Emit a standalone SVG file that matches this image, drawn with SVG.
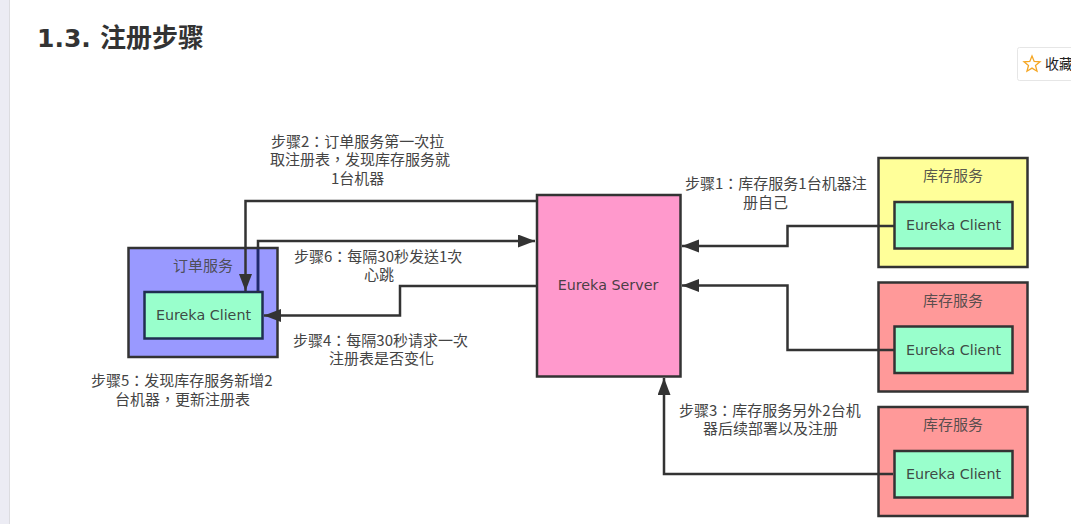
<svg xmlns="http://www.w3.org/2000/svg" width="1071" height="524" viewBox="0 0 1071 524">
<style>
.t{font-family:"DejaVu Sans","Noto Sans CJK TC",sans-serif;font-size:14.300px;fill:#333;fill-opacity:.9;text-anchor:middle}
.n{stroke:#333;stroke-width:2.500}
.c{fill:none;stroke:#333;stroke-width:2.500}
.s{font-family:"Noto Sans CJK TC",sans-serif;font-size:15px;fill:#444;fill-opacity:.9;text-anchor:middle}
.l{font-family:"Noto Sans CJK TC",sans-serif;font-size:15px;fill:#444}
</style>
<defs>
<marker id="a" markerUnits="userSpaceOnUse" markerWidth="18" markerHeight="14" refX="17" refY="6.500" orient="auto"><path d="M0 0L17 6.500L0 13Z" fill="#333"/></marker>
</defs>
<rect width="1071" height="524" fill="#fff"/>
<rect width="9" height="524" fill="#ececf4"/>
<rect x="9" width="1" height="524" fill="#dcdce0"/>
<text x="37" y="47" font-family="'DejaVu Sans',sans-serif" font-size="25" font-weight="700" fill="#333">1.3.</text>
<text x="100" y="47" font-family="'Noto Sans CJK SC',sans-serif" font-size="26" font-weight="700" fill="#333">注册步骤</text>
<g id="fav">
<rect x="1017.500" y="47.500" width="60" height="33" rx="2" fill="#fff" stroke="#e6e6e6"/>
<path d="M1032 56l2.200 5.400 5.800.4-4.500 3.700 1.500 5.700-5-3.100-5 3.100 1.500-5.700-4.500-3.700 5.800-.4z" fill="none" stroke="#f5a623" stroke-width="1.300"/>
<text x="1045" y="69" font-family="'Noto Sans CJK SC',sans-serif" font-size="14" fill="#222">收藏</text>
</g>
<g id="order-service"><rect class="n" x="128.500" y="248" width="149" height="109" fill="#99f"/><text class="s" x="203" y="271">订单服务</text></g>
<g id="order-client"><rect class="n" x="144.500" y="292" width="118" height="46.500" fill="#9fc" style="stroke:#1f2f50"/><text class="t" x="203.500" y="320">Eureka Client</text></g>
<g id="eureka-server"><rect class="n" x="537" y="195" width="143.500" height="181.500" fill="#f9c"/><text class="t" x="608" y="290">Eureka Server</text></g>
<g id="stock-1"><rect class="n" x="878.500" y="158" width="149" height="109" fill="#ff9"/><text class="s" x="953" y="181">库存服务</text></g>
<g id="stock-1-client"><rect class="n" x="894.500" y="202" width="118" height="46.500" fill="#9fc"/><text class="t" x="953.500" y="230">Eureka Client</text></g>
<g id="stock-2"><rect class="n" x="878.500" y="282.500" width="149" height="109" fill="#f99"/><text class="s" x="953" y="306">库存服务</text></g>
<g id="stock-2-client"><rect class="n" x="894.500" y="326.500" width="118" height="46.500" fill="#9fc"/><text class="t" x="953.500" y="355">Eureka Client</text></g>
<g id="stock-3"><rect class="n" x="878.500" y="407" width="149" height="109" fill="#f99"/><text class="s" x="953" y="430">库存服务</text></g>
<g id="stock-3-client"><rect class="n" x="894.500" y="451" width="118" height="46.500" fill="#9fc"/><text class="t" x="953.500" y="479">Eureka Client</text></g>
<g id="connectors">
<path class="c" marker-end="url(#a)" d="M536 201H245.500V291"/>
<path class="c" marker-end="url(#a)" d="M258 292V241H535"/>
<path d="M258 291V249" fill="none" stroke="#1f2a70" stroke-width="2.500"/>
<path class="c" marker-end="url(#a)" d="M536 286H400V315.500H264"/>
<path class="c" marker-end="url(#a)" d="M894 226H787.500V246H682"/>
<path class="c" marker-end="url(#a)" d="M894 350H787.500V285.500H682"/>
<path class="c" marker-end="url(#a)" d="M893 474H664V378"/>
</g>
<g id="labels">
<text class="l" x="271" y="147">步骤2：订单服务第一次拉</text><text class="l" x="270" y="165">取注册表，发现库存服务就</text><text class="l" x="331" y="184">1台机器</text>
<text class="l" x="685" y="189">步骤1：库存服务1台机器注</text><text class="l" x="743" y="208">册自己</text>
<text class="l" x="294" y="262">步骤6：每隔30秒发送1次</text><text class="l" x="364" y="280">心跳</text>
<text class="l" x="293" y="346">步骤4：每隔30秒请求一次</text><text class="l" x="329" y="364">注册表是否变化</text>
<text class="l" x="91" y="386">步骤5：发现库存服务新增2</text><text class="l" x="115" y="405">台机器，更新注册表</text>
<text class="l" x="679" y="416">步骤3：库存服务另外2台机</text><text class="l" x="703" y="434">器后续部署以及注册</text>
</g>
</svg>
